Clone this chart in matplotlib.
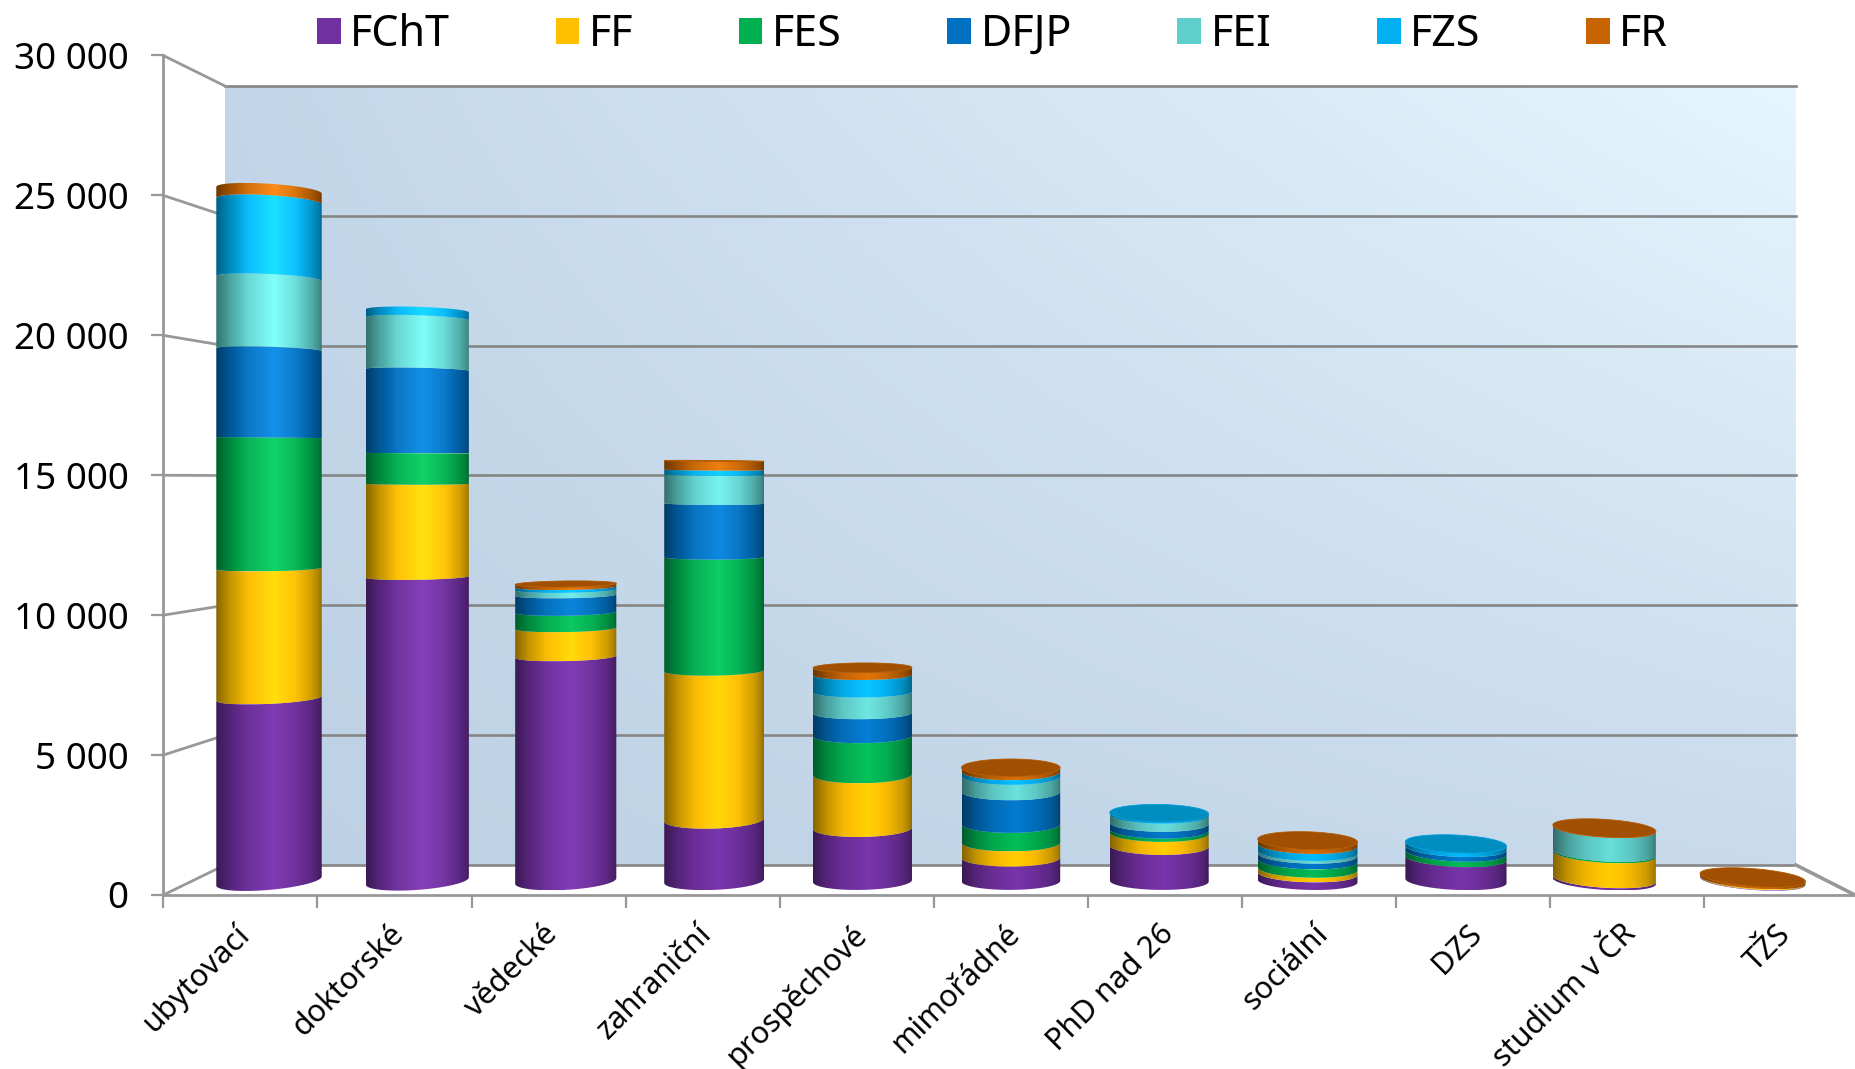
import numpy as np
import matplotlib
matplotlib.use("Agg")
import matplotlib.pyplot as plt
from matplotlib.lines import Line2D
from matplotlib.patches import Patch, PathPatch, Polygon
from matplotlib.path import Path
from matplotlib.ticker import FixedLocator, FuncFormatter, NullFormatter
from matplotlib.transforms import IdentityTransform

plt.rcParams['font.family'] = ['Noto Sans', 'DejaVu Sans']

categories = ["ubytovací", "doktorské", "vědecké", "zahraniční", "prospěchové", "mimořádné",
              "PhD nad 26", "sociální", "DZS", "studium v ČR", "TŽS"]
FChT = [6740, 11220, 8280, 2260, 1950, 860, 1290, 280, 850, 80, 20]
FF   = [4790, 3440, 1050, 5500, 1980, 560, 480, 170, 0, 920, 30]
FES  = [4830, 1130, 590, 4190, 1430, 680, 120, 310, 200, 50, 0]
DFJP = [3250, 3070, 630, 1980, 840, 1200, 250, 210, 170, 0, 0]
FEI  = [2620, 1880, 200, 1050, 770, 570, 300, 100, 0, 880, 0]
FZS  = [2850, 300, 100, 190, 630, 170, 60, 260, 150, 0, 0]
FR   = [410, 0, 110, 330, 270, 140, 0, 160, 0, 20, 80]
series_names = ["FChT", "FF", "FES", "DFJP", "FEI", "FZS", "FR"]
series_values = [FChT, FF, FES, DFJP, FEI, FZS, FR]
series_colors = ["#7030A0", "#FFC000", "#00B050", "#0070C0", "#5FCFCB", "#00B0F0", "#C86400"]
y_ticks = [0, 5000, 10000, 15000, 20000, 25000, 30000]

W, H = 1856, 1069
GRID = "#868686"
AXIS = "#989898"
fig = plt.figure(figsize=(W / 100, H / 100), dpi=100, facecolor="white")


def axes_px(x0, y_top, x1, y_bottom, **kw):
    return fig.add_axes([x0 / W, 1 - y_bottom / H, (x1 - x0) / W, (y_bottom - y_top) / H], **kw)


# ---- back wall with its gridlines
wall = axes_px(225, 86, 1796, 865, zorder=1)
corner = lambda c: np.array(matplotlib.colors.to_rgb(c))
BL, TL, BR, TR = map(corner, ["#BDD1E4", "#C3D6E9", "#C8DAEC", "#E6F6FF"])
xx, yy = np.meshgrid(np.linspace(0, 1, 300), np.linspace(0, 1, 200))
xx3, yy3 = xx[..., None], yy[..., None]
grad = (1 - xx3) * (1 - yy3) * BL + (1 - xx3) * yy3 * TL + xx3 * (1 - yy3) * BR + xx3 * yy3 * TR
wall.imshow(grad, origin="lower", extent=[0, 1, 0, 30000], aspect="auto", zorder=0)
wall.set_xlim(0, 1)
wall.set_ylim(0, 30000)
wall.set_xticks([])
wall.yaxis.set_major_locator(FixedLocator(y_ticks))
wall.yaxis.set_major_formatter(NullFormatter())
wall.tick_params(axis="y", length=0)
wall.grid(axis="y", color=GRID, lw=1.9, zorder=1, clip_on=False)
wall.set_axisbelow(False)
for s in wall.spines.values():
    s.set_visible(False)

# ---- front axes carrying ticks and labels
front = axes_px(163.3, 55.5, 1855, 895, zorder=2)
front.patch.set_alpha(0)
front.set_xlim(0, (1855 - 163.3) / 154.1)
front.set_ylim(0, 30000)
for name in ("top", "right"):
    front.spines[name].set_visible(False)
for name in ("left", "bottom"):
    front.spines[name].set_color(AXIS)
    front.spines[name].set_linewidth(2.0)
front.yaxis.set_major_locator(FixedLocator(y_ticks))
front.yaxis.set_major_formatter(FuncFormatter(lambda v, _: f"{int(v):,}".replace(",", " ")))
front.xaxis.set_major_locator(FixedLocator(range(len(categories))))
front.xaxis.set_major_formatter(NullFormatter())
front.tick_params(axis="y", length=9, width=1.6, color=AXIS, labelsize=26.5, pad=16, labelcolor="black")
front.tick_params(axis="x", length=9, width=1.6, color=AXIS)
for k, lab in enumerate(categories):
    front.annotate(lab, xy=(k + 0.5, 0), xycoords=front.get_xaxis_transform(),
                   xytext=(-6, -24), textcoords="offset pixels", rotation=45,
                   rotation_mode="anchor", ha="right", va="top", fontsize=22,
                   color="black", annotation_clip=False)

# side-wall and floor connector lines
to_px = lambda ax, x, y: ax.transData.transform((x, y))
for v in y_ticks:
    a = to_px(front, 0, v)
    b = to_px(wall, 0, v)
    fig.add_artist(Line2D([a[0], b[0]], [a[1], b[1]], color=AXIS, lw=2.0,
                          transform=IdentityTransform(), zorder=1.5))
a, b = to_px(wall, 1, 0), to_px(front, front.get_xlim()[1], 0)
fig.add_artist(Line2D([a[0], b[0]], [a[1], b[1]], color=AXIS, lw=2.6,
                      transform=IdentityTransform(), zorder=1.5))

# ---- cylinders
SX = 148.37          # px per category
SY = 0.0271          # px per value unit
X0_PX, BASE_PX = 269.0, 881.0
bars = axes_px(0, 0, W, H, zorder=3)
bars.patch.set_alpha(0)
bars.axis("off")
xlim = (-X0_PX / SX, (W - X0_PX) / SX)
ylim = ((BASE_PX - H) / SY, BASE_PX / SY)


def half_width(i):
    return (98.7 + 0.27 * (i - 5) ** 2) / 2


def sag(v):
    return np.interp(v, [0, 4400, 6800, 8000, 11000, 15500, 21000, 25500],
                     [8.9, 8.7, 5.5, 4.7, 3.0, 0.5, -4.0, -6.5])


def tilt(i, v):
    return 0.85 * (i - 5.3) + 7.7 * (1 - i / 10) ** 2 * v / 25000


def curve(i, v, theta):
    x = i + half_width(i) * np.cos(theta) / SX
    y = v + (sag(v) * np.sin(theta) - tilt(i, v) * np.cos(theta)) / SY
    return x, y


POS = [0, .06, .14, .30, .55, .75, .90, .97, 1]
MUL = [.52, .62, .76, .93, 1.06, .95, .80, .66, .55]
u = np.linspace(0, 1, 220)

front_arc = np.linspace(np.pi, 2 * np.pi, 80)
for i in range(len(categories)):
    bottom = 0.0
    top_color = None
    for vals, col in zip(series_values, series_colors):
        val = vals[i]
        if val <= 0:
            continue
        v0, v1 = bottom, bottom + val
        x0, y0 = curve(i, v0, front_arc)
        x1, y1 = curve(i, v1, front_arc)
        xy = np.column_stack([np.r_[x0, x1[::-1]], np.r_[y0, y1[::-1]]])
        base = np.array(matplotlib.colors.to_rgb(col))
        gain = 1 + 0.07 * (v1 / 25000)
        lift = 0.10 * (v1 / 25000) * np.clip((np.interp(u, POS, MUL) - .8) / .26, 0, 1)
        mul = np.interp(u, POS, MUL) * gain
        img = np.clip(base[None, None, :] * mul[None, :, None] + lift[None, :, None], 0, 1)
        im = bars.imshow(img, extent=[x0.min(), x0.max(), min(y0.min(), y1.min()), max(y0.max(), y1.max())],
                         aspect="auto", origin="lower", zorder=2 + i * .01, interpolation="bilinear")
        clip = PathPatch(Path(np.vstack([xy, xy[:1]])), transform=bars.transData, fc="none", ec="none")
        bars.add_patch(clip)
        im.set_clip_path(clip)
        bottom = v1
        top_color = base
    if sag(bottom) > 0 and top_color is not None:
        th = np.linspace(0, 2 * np.pi, 160)
        x, y = curve(i, bottom, th)
        bars.add_patch(Polygon(np.column_stack([x, y]), closed=True, fc=top_color * 0.8,
                               ec=top_color * 0.9, lw=0.6, zorder=2.5 + i * .01))
bars.set_xlim(*xlim)
bars.set_ylim(*ylim)

# ---- legend
handles = [Patch(fc=c_, ec="none", label=n) for n, c_ in zip(series_names, series_colors)]
FS = 31
bars.legend(handles=handles, ncols=len(handles), frameon=False, fontsize=FS,
            loc="upper left", bbox_to_anchor=(317 / W, 1 - 13 / H), bbox_transform=fig.transFigure,
            borderpad=0, borderaxespad=0, handlelength=0.55, handleheight=0.55,
            handletextpad=0.22, columnspacing=2.45, labelcolor="black")

fig.savefig("out.png", dpi=100)
